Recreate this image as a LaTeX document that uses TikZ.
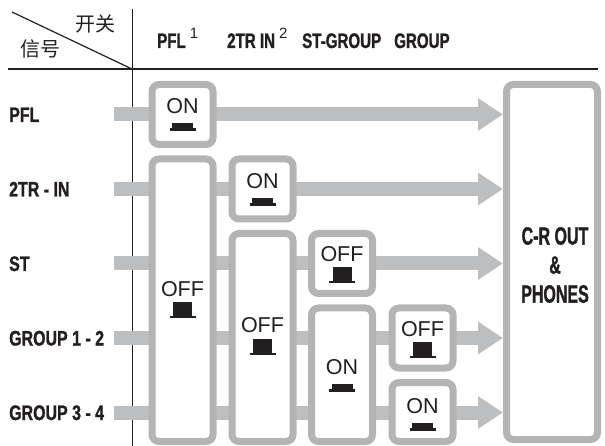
\documentclass[tikz,border=0pt]{standalone}
\usepackage{fontspec}
\setmainfont{Liberation Sans}
\newfontfamily\cjk{Noto Sans CJK SC}
\newfontfamily\hdfont[FakeStretch=0.72,FakeBold=1.2]{Liberation Sans}
\newfontfamily\lbfont[FakeStretch=0.76,FakeBold=1.2]{Liberation Sans}
\newfontfamily\crfont[FakeStretch=0.64,FakeBold=1.2]{Liberation Sans}
\usetikzlibrary{arrows.meta,calc}
\definecolor{bargray}{RGB}{188,190,192}
\definecolor{boxgray}{RGB}{180,180,180}
\definecolor{ink}{RGB}{35,31,32}
\begin{document}
\begin{tikzpicture}[x=1pt,y=-1pt,
  swbox/.style={draw=boxgray,line width=7pt,fill=white,rounded corners=7pt,inner sep=0pt,outer sep=3.5pt},
  shortbox/.style={swbox,minimum width=61pt,minimum height=60pt},
  bar/.style={draw=bargray,line width=14pt,-{Triangle[length=25pt,width=31pt]}},
  rulethick/.style={draw=ink,line width=1.5pt},
  rulethin/.style={draw=ink,line width=1pt},
  lab/.style={font=\lbfont\bfseries\fontsize{21}{21}\selectfont,text=ink,inner sep=0pt,anchor=base west},
  hd/.style={font=\hdfont\bfseries\fontsize{21}{21}\selectfont,text=ink,inner sep=0pt,anchor=base west},
  sw/.style={font=\fontsize{21.5}{21.5}\selectfont,text=ink,inner sep=0pt,anchor=base},
  crtxt/.style={font=\crfont\bfseries\fontsize{25}{29}\selectfont,text=ink,inner sep=0pt,align=center},
  cjktxt/.style={font=\cjk\fontsize{20}{20}\selectfont,text=ink,inner sep=0pt},
  onbtn/.pic={\fill[ink] (-13,14.5) rectangle (13,17.5); \fill[ink] (-10.5,9.5) rectangle (10.5,14.5);},
  offbtn/.pic={\fill[ink] (-13,19.5) rectangle (13,22); \fill[ink] (-9.5,6) rectangle (9.5,19.5);}
]
\useasboundingbox (0,0) rectangle (605,446);

% header frame
\draw[rulethick] (8,69) -- (598,69);
\draw[rulethin] (132,9) -- (132,446);
\draw[ink,line width=1.2pt] (12,12) -- (132,69);
\node[cjktxt] (kg) at (95.5,24) {开关};
\node[cjktxt] (xh) at (40,49) {信号};

% column headers
\node[hd] (h1) at (157,48) {PFL\hspace{4pt}\raisebox{9pt}{\normalfont\fontsize{15}{15}\selectfont 1}};
\node[hd] (h2) at (227,48) {2TR IN\hspace{4pt}\raisebox{9pt}{\normalfont\fontsize{15}{15}\selectfont 2}};
\node[hd] (h3) at (302,48) {ST-GROUP};
\node[hd] (h4) at (394,48) {GROUP};

% row labels
\node[lab] (l1) at (9,122) {PFL};
\node[lab] (l2) at (9,196.5) {2TR - IN};
\node[lab] (l3) at (9,271) {ST};
\node[lab] (l4) at (9,345.5) {GROUP 1 - 2};
\node[lab] (l5) at (9,420) {GROUP 3 - 4};

% output box
\node[swbox,minimum width=91pt,minimum height=355pt] (cr) at (552,262) {};
\node[crtxt] (crt) at (555,265) {C-R OUT\\\&\\PHONES};

% signal bars
\coordinate (s1) at (114,114.5);
\coordinate (s2) at (114,189);
\coordinate (s3) at (114,263.5);
\coordinate (s4) at (114,338);
\coordinate (s5) at (114,412.5);
\foreach \s in {s1,s2,s3,s4,s5}{\draw[bar] (\s) -- (\s -| cr.west);}

% switch boxes
\node[shortbox] (b1) at (182.5,114.5) {};
\node[swbox,minimum width=61pt,minimum height=282.5pt] (c1) at (182.5,300.25) {};
\node[shortbox] (b2) at (262.5,189) {};
\node[swbox,minimum width=61pt,minimum height=208pt] (c2) at (262.5,337.5) {};
\node[shortbox] (b3) at (342,263.5) {};
\node[swbox,minimum width=61pt,minimum height=133.5pt] (c3) at (342,374.75) {};
\node[shortbox] (b4) at (422.5,338) {};
\node[swbox,minimum width=61pt,minimum height=59pt] (c4) at (422.5,412) {};

% switch states
\node[sw] (t1) at ($(b1.center)+(0,-1)$) {ON};
\pic at (t1.base) {onbtn};
\node[sw] (t2) at ($(b2.center)+(0,0)$) {ON};
\pic at (t2.base) {onbtn};
\node[sw] (t3) at ($(b3.center)+(0,-2)$) {OFF};
\pic at (t3.base) {offbtn};
\node[sw] (t4) at ($(b4.center)+(0,-2)$) {OFF};
\pic at (t4.base) {offbtn};
\node[sw] (u1) at ($(c1.center)+(0,-4)$) {OFF};
\pic at (u1.base) {offbtn};
\node[sw] (u2) at ($(c2.center)+(0,-4.5)$) {OFF};
\pic at (u2.base) {offbtn};
\node[sw] (u3) at ($(c3.center)+(0,0)$) {ON};
\pic at (u3.base) {onbtn};
\node[sw] (u4) at ($(c4.center)+(0,1)$) {ON};
\pic at (u4.base) {onbtn};
\end{tikzpicture}
\end{document}
